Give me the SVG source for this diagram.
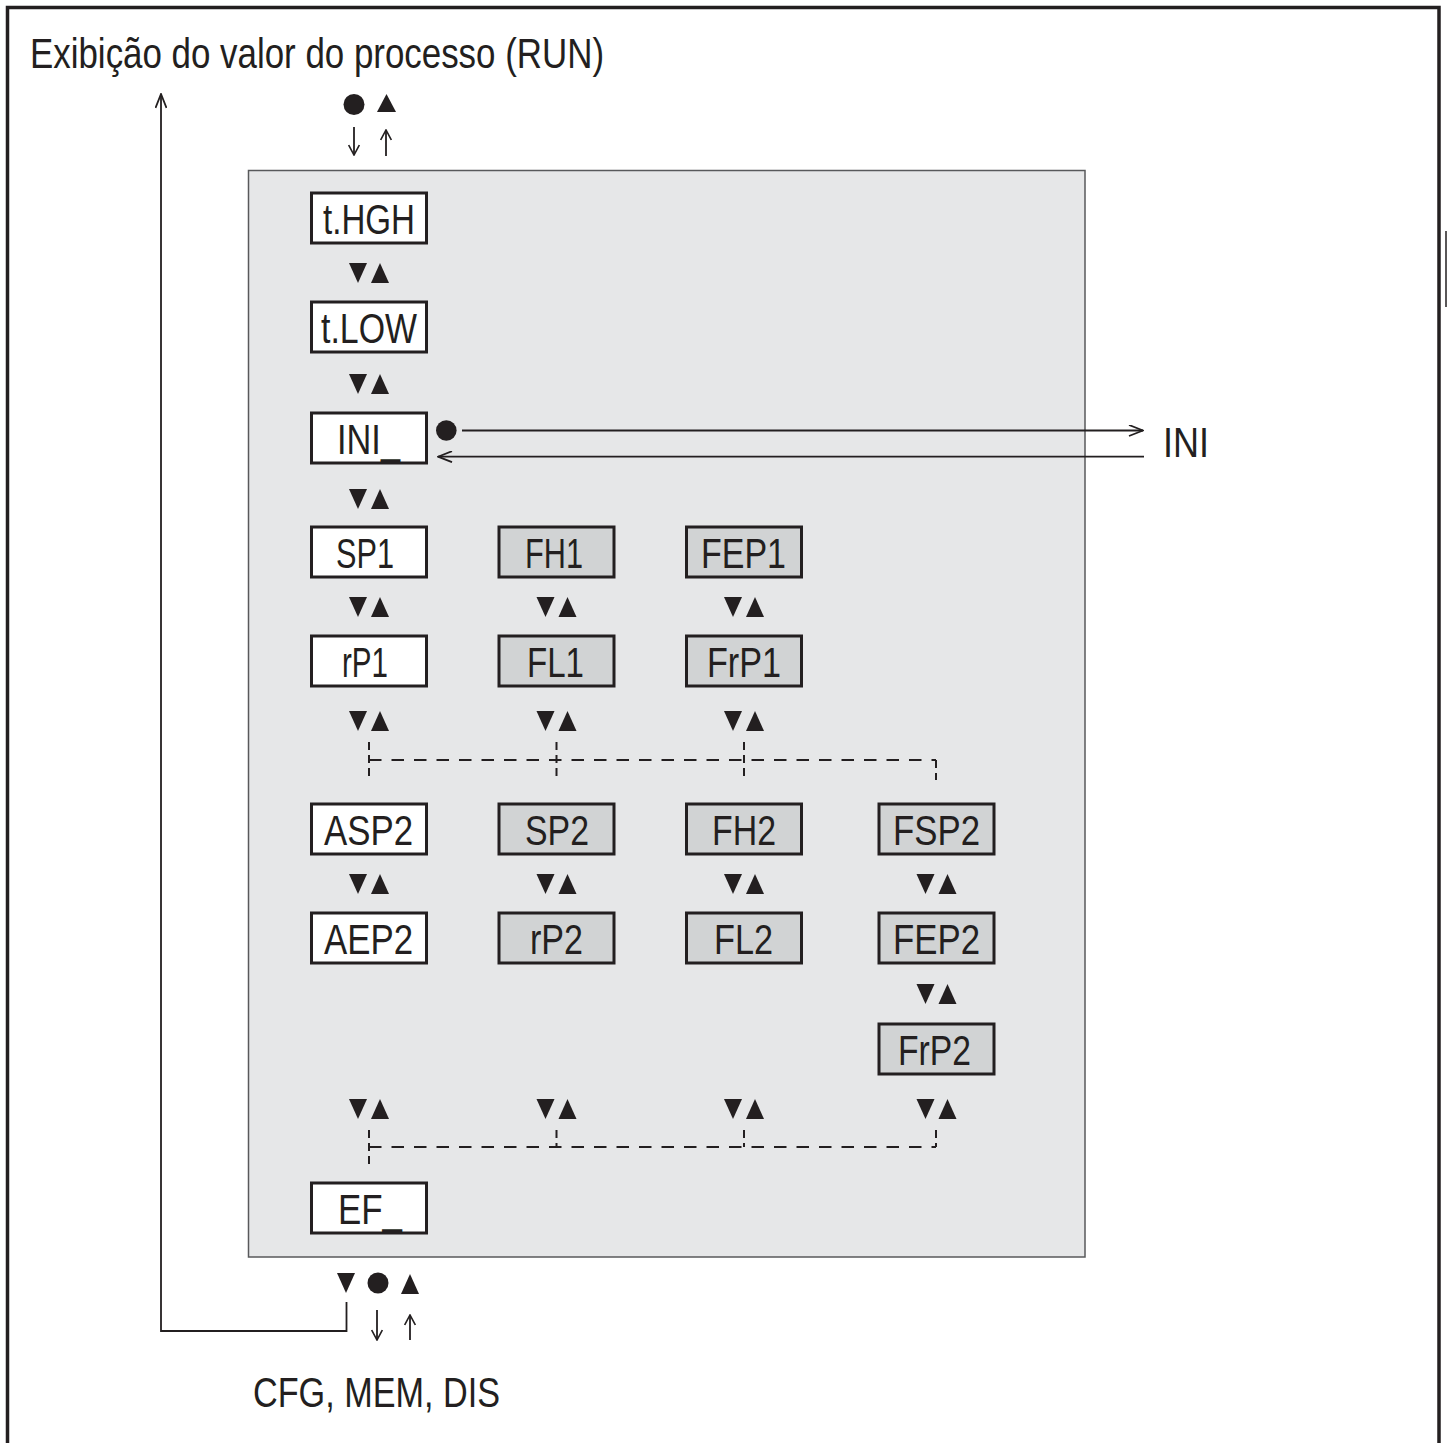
<svg xmlns="http://www.w3.org/2000/svg" width="1447" height="1443" viewBox="0 0 1447 1443">
<style>
.lbl{font-family:"Liberation Sans",Arial,sans-serif;font-size:42px;fill:#231f20}
.bw{fill:#ffffff;stroke:#231f20;stroke-width:3}
.bg{fill:#d1d3d4;stroke:#231f20;stroke-width:3}
.ln{fill:none;stroke:#231f20;stroke-width:1.8}
.dh{fill:none;stroke:#231f20;stroke-width:2;stroke-dasharray:12.5 10}
.dv{fill:none;stroke:#231f20;stroke-width:2;stroke-dasharray:8 5}
.sym{fill:#231f20}
</style>
<defs>
<g id="va">
<polygon points="-20,0 -2,0 -11,20"/>
<polygon points="2,20 20,20 11,0"/>
</g>
<marker id="ah" viewBox="0 0 16 12" refX="15" refY="6" markerWidth="16" markerHeight="12" markerUnits="userSpaceOnUse" orient="auto">
<path d="M1,0.5 L15,6 L1,11.5" fill="none" stroke="#231f20" stroke-width="1.8"/>
</marker>
<marker id="as" viewBox="0 0 12 12" refX="11" refY="6" markerWidth="12" markerHeight="12" markerUnits="userSpaceOnUse" orient="auto">
<path d="M1,0.7 L11,6 L1,11.3" fill="none" stroke="#231f20" stroke-width="1.6"/>
</marker>
</defs>
<rect width="1447" height="1443" fill="#ffffff"/>
<path d="M7.5,1443 V7.5 H1439 V1443" fill="none" stroke="#231f20" stroke-width="3.5"/>
<line x1="1446" y1="231" x2="1446" y2="307" stroke="#231f20" stroke-width="1.5"/>
<rect id="panel" x="248.5" y="170.5" width="836.5" height="1086.5" fill="#e6e7e8" stroke="#58595b" stroke-width="1.5"/>
<text class="lbl" x="30" y="68" textLength="574" lengthAdjust="spacingAndGlyphs">Exibição do valor do processo (RUN)</text>
<text class="lbl" x="1163" y="457" textLength="46" lengthAdjust="spacingAndGlyphs">INI</text>
<text class="lbl" x="253" y="1407" textLength="247" lengthAdjust="spacingAndGlyphs">CFG, MEM, DIS</text>
<g id="connectors">
<g class="sym">
<circle cx="354" cy="104.5" r="10.5"/>
<polygon points="377,112 396,112 386.5,94"/>
<circle cx="446.3" cy="430.5" r="10.3"/>
<polygon points="337,1273 355,1273 346,1293"/>
<circle cx="378" cy="1283" r="10.5"/>
<polygon points="401,1294 419,1294 410,1274"/>
<use href="#va" x="369" y="263"/>
<use href="#va" x="369" y="374"/>
<use href="#va" x="369" y="489"/>
<use href="#va" x="369" y="597"/>
<use href="#va" x="369" y="711"/>
<use href="#va" x="369" y="874"/>
<use href="#va" x="369" y="1099"/>
<use href="#va" x="556.5" y="597"/>
<use href="#va" x="556.5" y="711"/>
<use href="#va" x="556.5" y="874"/>
<use href="#va" x="556.5" y="1099"/>
<use href="#va" x="744" y="597"/>
<use href="#va" x="744" y="711"/>
<use href="#va" x="744" y="874"/>
<use href="#va" x="744" y="1099"/>
<use href="#va" x="936.5" y="874"/>
<use href="#va" x="936.5" y="984"/>
<use href="#va" x="936.5" y="1099"/>
</g>
<line class="ln" x1="354" y1="127" x2="354" y2="155" marker-end="url(#as)"/>
<line class="ln" x1="386" y1="156" x2="386" y2="130" marker-end="url(#as)"/>
<line class="ln" x1="377" y1="1310" x2="377" y2="1340" marker-end="url(#as)"/>
<line class="ln" x1="410" y1="1340" x2="410" y2="1315" marker-end="url(#as)"/>
<path class="ln" d="M346.5,1302 V1331 H161 V94" marker-end="url(#ah)"/>
<line class="ln" x1="462" y1="430.5" x2="1143" y2="430.5" marker-end="url(#ah)"/>
<line class="ln" x1="1144" y1="456.7" x2="438" y2="456.7" marker-end="url(#ah)"/>
<path class="dh" d="M369,760 H936"/>
<path class="dv" d="M369,742 V780 M556.5,742 V780 M744,742 V780 M936,760 V780"/>
<path class="dh" d="M369,1147 H936"/>
<path class="dv" d="M369,1130 V1167 M556.5,1130 V1147 M744,1130 V1147 M936,1130 V1147"/>
</g>
<g id="n-tHGH"><rect class="bw" x="311.5" y="193" width="115" height="50"/><text class="lbl" x="323" y="234" textLength="92" lengthAdjust="spacingAndGlyphs">t.HGH</text></g>
<g id="n-tLOW"><rect class="bw" x="311.5" y="302" width="115" height="50"/><text class="lbl" x="321" y="343" textLength="96" lengthAdjust="spacingAndGlyphs">t.LOW</text></g>
<g id="n-INI"><rect class="bw" x="311.5" y="413" width="115" height="50"/><text class="lbl" x="337" y="454" textLength="63" lengthAdjust="spacingAndGlyphs">INI_</text></g>
<g id="n-SP1"><rect class="bw" x="311.5" y="527" width="115" height="50"/><text class="lbl" x="336" y="568" textLength="58" lengthAdjust="spacingAndGlyphs">SP1</text></g>
<g id="n-rP1"><rect class="bw" x="311.5" y="636" width="115" height="50"/><text class="lbl" x="342" y="677" textLength="46" lengthAdjust="spacingAndGlyphs">rP1</text></g>
<g id="n-FH1"><rect class="bg" x="499" y="527" width="115" height="50"/><text class="lbl" x="525" y="568" textLength="58" lengthAdjust="spacingAndGlyphs">FH1</text></g>
<g id="n-FL1"><rect class="bg" x="499" y="636" width="115" height="50"/><text class="lbl" x="527" y="677" textLength="57" lengthAdjust="spacingAndGlyphs">FL1</text></g>
<g id="n-FEP1"><rect class="bg" x="686.5" y="527" width="115" height="50"/><text class="lbl" x="701" y="568" textLength="85" lengthAdjust="spacingAndGlyphs">FEP1</text></g>
<g id="n-FrP1"><rect class="bg" x="686.5" y="636" width="115" height="50"/><text class="lbl" x="707" y="677" textLength="74" lengthAdjust="spacingAndGlyphs">FrP1</text></g>
<g id="n-ASP2"><rect class="bw" x="311.5" y="804" width="115" height="50"/><text class="lbl" x="324" y="845" textLength="89" lengthAdjust="spacingAndGlyphs">ASP2</text></g>
<g id="n-AEP2"><rect class="bw" x="311.5" y="913" width="115" height="50"/><text class="lbl" x="324" y="954" textLength="89" lengthAdjust="spacingAndGlyphs">AEP2</text></g>
<g id="n-SP2"><rect class="bg" x="499" y="804" width="115" height="50"/><text class="lbl" x="525" y="845" textLength="64" lengthAdjust="spacingAndGlyphs">SP2</text></g>
<g id="n-rP2"><rect class="bg" x="499" y="913" width="115" height="50"/><text class="lbl" x="530" y="954" textLength="53" lengthAdjust="spacingAndGlyphs">rP2</text></g>
<g id="n-FH2"><rect class="bg" x="686.5" y="804" width="115" height="50"/><text class="lbl" x="712" y="845" textLength="64" lengthAdjust="spacingAndGlyphs">FH2</text></g>
<g id="n-FL2"><rect class="bg" x="686.5" y="913" width="115" height="50"/><text class="lbl" x="714" y="954" textLength="59" lengthAdjust="spacingAndGlyphs">FL2</text></g>
<g id="n-FSP2"><rect class="bg" x="879" y="804" width="115" height="50"/><text class="lbl" x="893" y="845" textLength="87" lengthAdjust="spacingAndGlyphs">FSP2</text></g>
<g id="n-FEP2"><rect class="bg" x="879" y="913" width="115" height="50"/><text class="lbl" x="893" y="954" textLength="87" lengthAdjust="spacingAndGlyphs">FEP2</text></g>
<g id="n-FrP2"><rect class="bg" x="879" y="1024" width="115" height="50"/><text class="lbl" x="898" y="1065" textLength="73" lengthAdjust="spacingAndGlyphs">FrP2</text></g>
<g id="n-EF"><rect class="bw" x="311.5" y="1183" width="115" height="50"/><text class="lbl" x="338" y="1224" textLength="64" lengthAdjust="spacingAndGlyphs">EF_</text></g>
</svg>
